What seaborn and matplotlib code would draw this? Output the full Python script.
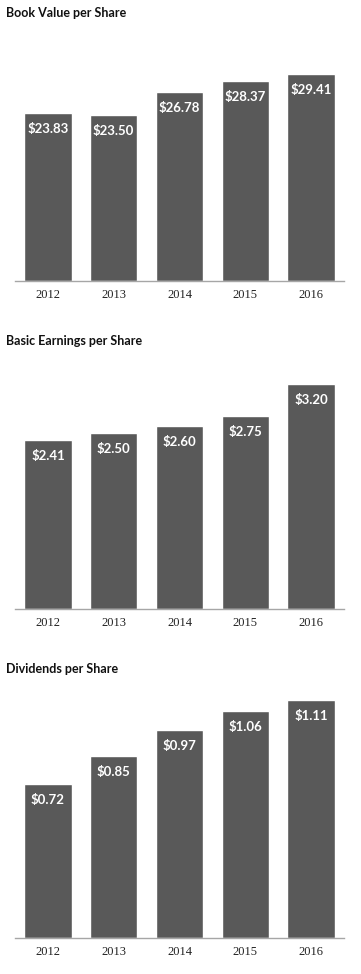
import matplotlib
matplotlib.use("Agg")
import pandas as pd
import matplotlib.pyplot as plt
import seaborn as sns

years = ["2012", "2013", "2014", "2015", "2016"]
book_value = [23.83, 23.50, 26.78, 28.37, 29.41]
basic_eps = [2.41, 2.50, 2.60, 2.75, 3.20]
dividends = [0.72, 0.85, 0.97, 1.06, 1.11]

titles = ["Book Value per Share", "Basic Earnings per Share", "Dividends per Share"]
series = [book_value, basic_eps, dividends]

sns.set_style("white")

W, H = 361, 974
fig = plt.figure(figsize=(W / 100, H / 100), dpi=100)

# pixel layout: (title y, axes top y, baseline y, y max)
layout = [
    (13, 40, 281, 34.2),
    (341, 365, 609, 3.47),
    (669, 690, 938, 1.157),
]

for title, vals, (ty, top, base, ymax) in zip(titles, series, layout):
    ax = fig.add_axes([15 / W, (H - base) / H, 329 / W, (base - top) / H])
    df = pd.DataFrame({"year": years, "value": vals})
    sns.barplot(data=df, x="year", y="value", color="#595959", saturation=1,
                width=0.72, ax=ax)
    ax.set_xlim(-0.5, 4.5)
    ax.set_ylim(0, ymax)
    ax.set_xlabel("")
    ax.set_ylabel("")
    ax.set_yticks([])
    for s in ["top", "right", "left"]:
        ax.spines[s].set_visible(False)
    ax.spines["bottom"].set_color("#a6a6a6")
    ax.spines["bottom"].set_linewidth(1)
    ax.tick_params(axis="x", length=0, pad=6)
    for lab in ax.get_xticklabels():
        lab.set_fontfamily("Liberation Serif")
        lab.set_fontsize(9)
        lab.set_color("#222222")
    # value labels inside bar tops
    px_per_unit = (base - top) / ymax
    off = 16 / px_per_unit
    for i, v in enumerate(vals):
        ax.text(i, v - off, f"${v:.2f}", ha="center", va="center",
                color="white", fontsize=9.5, fontweight="bold", family="Lato")
    fig.text(6 / W, 1 - ty / H, title, ha="left", va="center",
             fontsize=9, fontweight="bold", family="Lato", color="#111111")

fig.savefig("out.png", dpi=100)
